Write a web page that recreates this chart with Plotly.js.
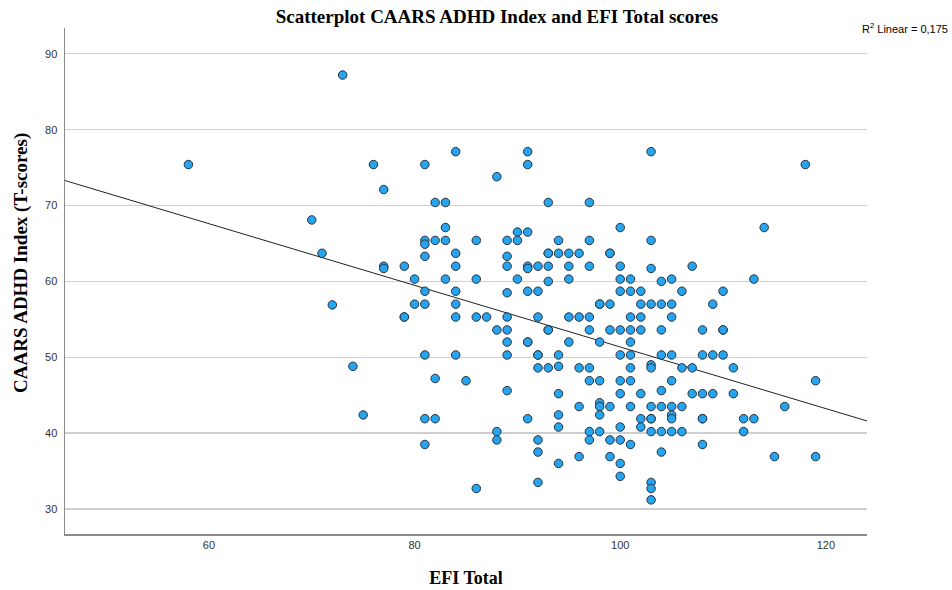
<!DOCTYPE html>
<html>
<head>
<meta charset="utf-8">
<script src="https://cdn.plot.ly/plotly-3.0.1.min.js"></script>
<style>html,body{margin:0;padding:0;background:#fff;}#chart{width:952px;height:590px;}</style>
</head>
<body>
<div id="chart"></div>
<script>
// EFI Total (x) and CAARS ADHD Index T-score (y)
const efiTotal = [
  58, 70, 71, 72, 73, 74, 75, 76,
  77, 77, 77,
  79, 79, 79,
  80, 80,
  81, 81, 81, 81, 81, 81, 81, 81, 81,
  82, 82, 82, 82,
  83, 83, 83, 83,
  84, 84, 84, 84, 84, 84, 84,
  85,
  86, 86, 86, 86,
  87,
  88, 88, 88, 88,
  89, 89, 89, 89, 89, 89, 89, 89, 89,
  90, 90, 90,
  91, 91, 91, 91, 91, 91, 91, 91, 91,
  92, 92, 92, 92, 92, 92, 92, 92, 92,
  93, 93, 93, 93, 93, 93, 93, 93,
  94, 94, 94, 94, 94, 94, 94, 94,
  95, 95, 95, 95, 95,
  96, 96, 96, 96, 96,
  97, 97, 97, 97, 97, 97, 97, 97, 97,
  98, 98, 98, 98, 98, 98, 98, 98,
  99, 99, 99, 99, 99, 99, 99,
  100, 100, 100, 100, 100, 100, 100, 100, 100, 100, 100, 100,
  101, 101, 101, 101, 101, 101, 101, 101, 101, 101,
  102, 102, 102, 102, 102, 102, 102,
  103, 103, 103, 103, 103, 103, 103, 103, 103, 103, 103, 103, 103,
  104, 104, 104, 104, 104, 104, 104, 104,
  105, 105, 105, 105, 105, 105, 105, 105, 105,
  106, 106, 106, 106,
  107, 107, 107,
  108, 108, 108, 108, 108, 108,
  109, 109, 109,
  110, 110, 110, 110,
  111, 111,
  112, 112,
  113, 113,
  114, 115, 116, 118,
  119, 119
];
const caarsAdhd = [
  75.4, 68.1, 63.7, 56.9, 87.2, 48.8, 42.4, 75.4,
  72.1, 62.0, 61.7,
  62.0, 55.3, 55.3,
  60.3, 57.0,
  75.4, 65.4, 64.9, 63.3, 58.7, 57.0, 50.3, 41.9, 38.5,
  70.4, 65.4, 47.2, 41.9,
  70.4, 67.1, 65.4, 60.3,
  77.1, 63.7, 62.0, 58.7, 57.0, 55.3, 50.3,
  46.9,
  65.4, 60.3, 55.3, 32.7,
  55.3,
  73.8, 53.6, 40.2, 39.1,
  65.4, 63.3, 62.0, 58.5, 55.3, 53.6, 52.0, 50.3, 45.6,
  66.5, 65.4, 60.3,
  77.1, 75.4, 66.5, 62.0, 61.7, 58.7, 52.0, 52.0, 41.9,
  62.0, 58.7, 55.3, 50.3, 50.3, 48.6, 39.1, 37.5, 33.5,
  70.4, 63.7, 63.7, 62.0, 60.0, 53.6, 53.6, 48.6,
  65.4, 63.7, 50.3, 48.8, 45.2, 42.4, 40.8, 36.0,
  63.7, 62.0, 60.3, 55.3, 52.0,
  63.7, 55.3, 48.6, 43.5, 36.9,
  70.4, 65.4, 62.0, 55.3, 53.6, 48.6, 46.9, 40.2, 39.1,
  57.0, 57.0, 52.0, 46.9, 44.0, 43.5, 42.4, 40.2,
  63.7, 63.7, 57.0, 53.6, 43.5, 39.1, 36.9,
  67.1, 62.0, 60.3, 58.7, 53.6, 50.3, 46.9, 45.2, 40.8, 39.1, 36.0, 34.3,
  60.3, 58.7, 55.3, 53.6, 52.0, 50.3, 48.6, 46.9, 43.5, 38.5,
  58.7, 57.0, 55.3, 53.6, 45.2, 41.9, 40.8,
  77.1, 65.4, 61.7, 57.0, 49.0, 48.6, 43.5, 41.9, 41.9, 40.2, 33.5, 32.7, 31.2,
  60.0, 57.0, 53.6, 50.3, 45.6, 43.5, 40.2, 37.5,
  60.3, 57.0, 55.3, 50.3, 46.9, 43.5, 42.4, 41.9, 40.2,
  58.7, 48.6, 43.5, 40.2,
  62.0, 48.6, 45.2,
  53.6, 50.3, 45.2, 41.9, 41.9, 38.5,
  57.0, 50.3, 45.2,
  58.7, 53.6, 53.6, 50.3,
  48.6, 45.2,
  41.9, 40.2,
  60.3, 41.9,
  67.1, 36.9, 43.5, 75.4,
  46.9, 36.9
];
const xTickVals = [60, 80, 100, 120];
const yTickVals = [30, 40, 50, 60, 70, 80, 90];
const xRange = [46, 124];
const yRange = [26.7, 93.4];
const r2Label = 'R<sup>2</sup> Linear = 0,175';

// least-squares fit from the data
const n = efiTotal.length;
const mx = efiTotal.reduce((a, b) => a + b, 0) / n;
const my = caarsAdhd.reduce((a, b) => a + b, 0) / n;
let sxy = 0, sxx = 0;
for (let i = 0; i < n; i++) { sxy += (efiTotal[i] - mx) * (caarsAdhd[i] - my); sxx += (efiTotal[i] - mx) ** 2; }
const slope = sxy / sxx;
const intercept = my - slope * mx;
const fitX = xRange.slice();
const fitY = fitX.map(v => intercept + slope * v);

const traces = [
  {
    x: fitX, y: fitY, type: 'scatter', mode: 'lines',
    line: {color: '#222222', width: 1}, hoverinfo: 'skip', showlegend: false
  },
  {
    x: efiTotal, y: caarsAdhd, type: 'scatter', mode: 'markers',
    marker: {size: 8.5, color: '#26a4f0', line: {color: '#27323d', width: 1}},
    showlegend: false
  }
];

const serif = 'Liberation Serif, Times New Roman, serif';
const sans = 'Liberation Sans, Arial, sans-serif';

const layout = {
  width: 952, height: 590,
  margin: {l: 65, r: 85, t: 28, b: 56},
  paper_bgcolor: '#ffffff', plot_bgcolor: '#ffffff',
  title: {
    text: '<b>Scatterplot CAARS ADHD Index and EFI Total scores</b>',
    font: {family: serif, size: 19, color: '#000'},
    x: 0.522, xanchor: 'center', y: 0.972, yanchor: 'middle'
  },
  xaxis: {
    range: xRange, tickvals: xTickVals, ticks: '', showgrid: false, zeroline: false,
    showline: true, linecolor: '#8a8a8a', linewidth: 1.5, mirror: false,
    tickfont: {family: sans, size: 11, color: '#333'},
    title: {text: '<b>EFI Total</b>', font: {family: serif, size: 18, color: '#000'}, standoff: 21}
  },
  yaxis: {
    range: yRange, tickvals: yTickVals, ticks: '', showgrid: true,
    gridcolor: '#cfcfcf', gridwidth: 1.3, zeroline: false,
    showline: true, linecolor: '#8a8a8a', linewidth: 1.5,
    tickfont: {family: sans, size: 11, color: '#333'}, ticklabelstandoff: 4
  },
  annotations: [
    {
      text: '<b>CAARS ADHD Index (T-scores)</b>', textangle: -90,
      xref: 'paper', yref: 'paper', x: -0.054, y: 0.535,
      xanchor: 'center', yanchor: 'middle', showarrow: false,
      font: {family: serif, size: 19, color: '#000'}
    },
    {
      text: r2Label, xref: 'paper', yref: 'paper', x: 1.1035, y: 1.0,
      xanchor: 'right', yanchor: 'middle', showarrow: false,
      font: {family: sans, size: 11, color: '#000'}
    }
  ]
};

Plotly.newPlot('chart', traces, layout, {displayModeBar: false, staticPlot: true});
</script>
</body>
</html>
